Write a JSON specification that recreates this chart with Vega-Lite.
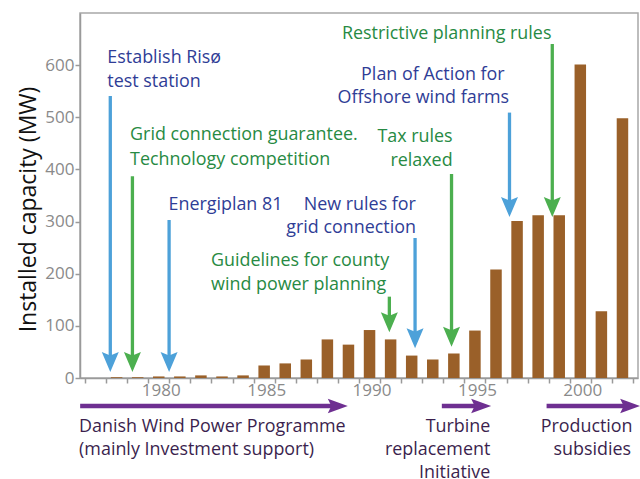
{
  "$schema": "https://vega.github.io/schema/vega-lite/v6.json",
  "width": 558,
  "height": 365,
  "autosize": {"type": "none"},
  "padding": {"left": 80, "top": 13, "right": 2, "bottom": 101},
  "background": "white",
  "config": {"view": {"stroke": "#a8a8a8", "strokeWidth": 1.5}, "font": "Open Sans"},
  "datasets": {
    "capacity": [
      {"year": 1978, "mw": 1.5}, {"year": 1979, "mw": 1.5}, {"year": 1980, "mw": 3},
      {"year": 1981, "mw": 3}, {"year": 1982, "mw": 5}, {"year": 1983, "mw": 3},
      {"year": 1984, "mw": 5}, {"year": 1985, "mw": 24}, {"year": 1986, "mw": 28},
      {"year": 1987, "mw": 35.5}, {"year": 1988, "mw": 74}, {"year": 1989, "mw": 64},
      {"year": 1990, "mw": 92}, {"year": 1991, "mw": 74}, {"year": 1992, "mw": 43},
      {"year": 1993, "mw": 35.5}, {"year": 1994, "mw": 47}, {"year": 1995, "mw": 91},
      {"year": 1996, "mw": 208}, {"year": 1997, "mw": 301}, {"year": 1998, "mw": 312},
      {"year": 1999, "mw": 312}, {"year": 2000, "mw": 601}, {"year": 2001, "mw": 128},
      {"year": 2002, "mw": 498}
    ],
    "events": [
      {"event": "Establish Risø test station", "kind": "initiative", "year": 1977.70, "top": 541, "end": 34.5},
      {"event": "Grid connection guarantee", "kind": "regulation", "year": 1978.75, "top": 387, "end": 34.5},
      {"event": "Energiplan 81", "kind": "initiative", "year": 1980.49, "top": 303, "end": 34.5},
      {"event": "Guidelines for county wind power planning", "kind": "regulation", "year": 1990.94, "top": 156, "end": 110.6},
      {"event": "New rules for grid connection", "kind": "initiative", "year": 1992.16, "top": 268.5, "end": 80},
      {"event": "Tax rules relaxed", "kind": "regulation", "year": 1993.89, "top": 391, "end": 83},
      {"event": "Plan of Action for Offshore wind farms", "kind": "initiative", "year": 1996.64, "top": 509, "end": 332},
      {"event": "Restrictive planning rules", "kind": "regulation", "year": 1998.67, "top": 640.6, "end": 332}
    ],
    "programmes": [
      {"programme": "Danish Wind Power Programme", "start": 1976.27, "end": 1988.40, "level": -53.7},
      {"programme": "Turbine replacement Initiative", "start": 1993.43, "end": 1995.20, "level": -53.7},
      {"programme": "Production subsidies", "start": 1998.40, "end": 2002.27, "level": -53.7}
    ],
    "notesStart": [
      {"text": "Establish Risø", "kind": "initiative", "year": 1977.56, "mw": 604.7},
      {"text": "test station", "kind": "initiative", "year": 1977.56, "mw": 557.5},
      {"text": "Grid connection guarantee.", "kind": "regulation", "year": 1978.64, "mw": 456.5},
      {"text": "Technology competition", "kind": "regulation", "year": 1978.64, "mw": 408.5},
      {"text": "Energiplan 81", "kind": "initiative", "year": 1980.46, "mw": 322.2},
      {"text": "Guidelines for county", "kind": "regulation", "year": 1982.48, "mw": 214.8},
      {"text": "wind power planning", "kind": "regulation", "year": 1982.48, "mw": 168.8},
      {"text": "Danish Wind Power Programme", "kind": "programme", "year": 1976.22, "mw": -103},
      {"text": "(mainly Investment support)", "kind": "programme", "year": 1976.22, "mw": -147.7}
    ],
    "notesEnd": [
      {"text": "New rules for", "kind": "initiative", "year": 1992.2, "mw": 322.2},
      {"text": "grid connection", "kind": "initiative", "year": 1992.2, "mw": 278.1},
      {"text": "Tax rules", "kind": "regulation", "year": 1993.94, "mw": 453.3},
      {"text": "relaxed", "kind": "regulation", "year": 1993.94, "mw": 406.6},
      {"text": "Plan of Action for", "kind": "initiative", "year": 1996.41, "mw": 571.5},
      {"text": "Offshore wind farms", "kind": "initiative", "year": 1996.62, "mw": 528},
      {"text": "Restrictive planning rules", "kind": "regulation", "year": 1998.63, "mw": 649.6},
      {"text": "Turbine", "kind": "programme", "year": 1995.73, "mw": -103},
      {"text": "replacement", "kind": "programme", "year": 1995.73, "mw": -147.7},
      {"text": "Initiative", "kind": "programme", "year": 1995.73, "mw": -192.4},
      {"text": "Production", "kind": "programme", "year": 2002.48, "mw": -103},
      {"text": "subsidies", "kind": "programme", "year": 2002.41, "mw": -147.7}
    ]
  },
  "layer": [
    {
      "data": {"name": "capacity"},
      "mark": {"type": "bar", "width": 11.5, "color": "#9a6029"},
      "encoding": {
        "x": {
          "field": "year", "type": "quantitative",
          "scale": {"domain": [1976.5, 2002.5], "nice": false, "zero": false},
          "axis": {
            "orient": "bottom",
            "title": null,
            "values": [1976.5, 1977.5, 1978.5, 1979.5, 1980.5, 1981.5, 1982.5, 1983.5, 1984.5, 1985.5, 1986.5, 1987.5, 1988.5, 1989.5, 1990.5, 1991.5, 1992.5, 1993.5, 1994.5, 1995.5, 1996.5, 1997.5, 1998.5, 1999.5, 2000.5, 2001.5, 2002.5],
            "labels": false,
            "tickSize": 5,
            "tickColor": "#9a9a9a",
            "tickWidth": 1.5,
            "domainColor": "#9a9a9a",
            "domainWidth": 1.5,
            "grid": false
          }
        },
        "y": {
          "field": "mw", "type": "quantitative",
          "scale": {"domain": [0, 700], "nice": false},
          "axis": {
            "title": "Installed capacity (MW)",
            "values": [0, 100, 200, 300, 400, 500, 600],
            "labelFontSize": 17,
            "labelColor": "#8a8a8a",
            "labelPadding": 1,
            "tickSize": 5,
            "tickColor": "#9a9a9a",
            "tickWidth": 1.5,
            "domainColor": "#9a9a9a",
            "domainWidth": 1.5,
            "grid": false,
            "titleFontSize": 23,
            "titleFontWeight": "normal",
            "titleColor": "#111111",
            "titleBaseline": "alphabetic",
            "titleX": -45,
            "titleY": 196
          }
        }
      }
    },
    {
      "data": {"name": "programmes"},
      "mark": {"type": "rule", "strokeWidth": 4.3, "color": "#6e2f91"},
      "encoding": {
        "x": {
          "field": "start", "type": "quantitative",
          "scale": {"domain": [1976.5, 2002.5], "nice": false, "zero": false},
          "axis": {
            "orient": "bottom",
            "title": null,
            "values": [1980, 1985, 1990, 1995, 2000],
            "format": "d",
            "ticks": false,
            "domain": false,
            "grid": false,
            "labelOverlap": false,
            "labelFlush": false,
            "labelFontSize": 17,
            "labelColor": "#8a8a8a",
            "labelPadding": 4,
            "labelOffset": 2
          }
        },
        "x2": {"field": "end"},
        "y": {"field": "level", "type": "quantitative"}
      }
    },
    {
      "data": {"name": "programmes"},
      "mark": {"type": "point", "shape": "M1.2,0L-0.8,-0.73L-0.45,0L-0.8,0.73Z", "size": 400, "filled": true, "opacity": 1, "strokeWidth": 0, "color": "#6e2f91"},
      "encoding": {
        "x": {"field": "end", "type": "quantitative", "axis": null, "scale": {"domain": [1976.5, 2002.5], "nice": false, "zero": false}},
        "y": {"field": "level", "type": "quantitative"}
      }
    },
    {
      "data": {"name": "events"},
      "mark": {"type": "rule", "strokeWidth": 3.3},
      "encoding": {
        "x": {"field": "year", "type": "quantitative", "axis": null, "scale": {"domain": [1976.5, 2002.5], "nice": false, "zero": false}},
        "y": {"field": "top", "type": "quantitative"},
        "y2": {"field": "end"},
        "color": {"field": "kind", "type": "nominal", "scale": {"domain": ["initiative", "regulation"], "range": ["#4da1d9", "#4caf4f"]}, "legend": null}
      }
    },
    {
      "data": {"name": "events"},
      "mark": {"type": "point", "shape": "M0,1.2L-0.85,-0.8L0,-0.45L0.85,-0.8Z", "size": 400, "filled": true, "opacity": 1, "strokeWidth": 0},
      "encoding": {
        "x": {"field": "year", "type": "quantitative", "axis": null, "scale": {"domain": [1976.5, 2002.5], "nice": false, "zero": false}},
        "y": {"field": "end", "type": "quantitative"},
        "color": {"field": "kind", "type": "nominal", "scale": {"domain": ["initiative", "regulation"], "range": ["#4da1d9", "#4caf4f"]}, "legend": null}
      }
    },
    {
      "data": {"name": "notesStart"},
      "mark": {"type": "text", "align": "left", "baseline": "alphabetic", "fontSize": 17.9, "font": "Open Sans"},
      "encoding": {
        "x": {"field": "year", "type": "quantitative", "axis": null, "scale": {"domain": [1976.5, 2002.5], "nice": false, "zero": false}},
        "y": {"field": "mw", "type": "quantitative"},
        "text": {"field": "text"},
        "color": {"field": "kind", "type": "nominal", "scale": {"domain": ["initiative", "regulation", "programme"], "range": ["#2f3d96", "#278a43", "#3b1f4e"]}, "legend": null}
      }
    },
    {
      "data": {"name": "notesEnd"},
      "mark": {"type": "text", "align": "right", "baseline": "alphabetic", "fontSize": 17.9, "font": "Open Sans"},
      "encoding": {
        "x": {"field": "year", "type": "quantitative", "axis": null, "scale": {"domain": [1976.5, 2002.5], "nice": false, "zero": false}},
        "y": {"field": "mw", "type": "quantitative"},
        "text": {"field": "text"},
        "color": {"field": "kind", "type": "nominal", "scale": {"domain": ["initiative", "regulation", "programme"], "range": ["#2f3d96", "#278a43", "#3b1f4e"]}, "legend": null}
      }
    }
  ],
  "resolve": {"scale": {"color": "independent"}, "axis": {"x": "independent"}}
}
